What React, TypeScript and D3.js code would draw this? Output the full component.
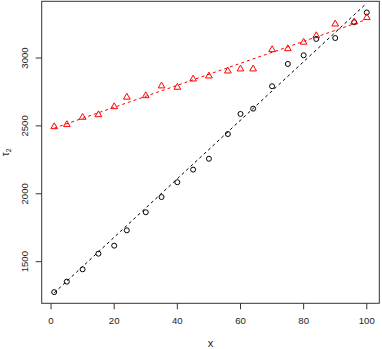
import React, { useEffect, useRef } from "react";
import * as d3 from "d3";

// x values shared by both series
const xs = [1, 5, 10, 15, 20, 24, 30, 35, 40, 45, 50, 56, 60, 64, 70, 75, 80, 84, 90, 96, 100];
// black circles
const tauCircles = [1276, 1353, 1444, 1559, 1618, 1731, 1864, 1976, 2085, 2178, 2258, 2440, 2588, 2627, 2792, 2956, 3020, 3140, 3147, 3263, 3335];
// red triangles
const tauTriangles = [2494, 2509, 2563, 2582, 2641, 2711, 2722, 2794, 2784, 2845, 2867, 2904, 2919, 2919, 3061, 3068, 3116, 3164, 3250, 3265, 3297];
// dashed lines: [intercept, slope]
const blackLineCoef = [1249, 21.55];
const redLineCoef = [2475.3, 8.09];
const xTicks = [0, 20, 40, 60, 80, 100];
const yTicks = [1500, 2000, 2500, 3000];

const W = 382;
const H = 349;
const FONT = "'Liberation Sans', Arial, Helvetica, sans-serif";

const App = () => {
  const ref = useRef<SVGSVGElement>(null);

  useEffect(() => {
    const svg = d3.select(ref.current);
    svg.selectAll("*").remove();

    const left = 41.7, right = 379.3, top = 1.3, bottom = 303.3;

    const xExt = d3.extent(xs) as [number, number];
    const xPad = (xExt[1] - xExt[0]) * 0.04;
    const x = d3.scaleLinear().domain([xExt[0] - xPad, xExt[1] + xPad]).range([left, right]);

    const yExt = d3.extent([...tauCircles, ...tauTriangles]) as [number, number];
    const yPad = (yExt[1] - yExt[0]) * 0.04;
    const y = d3.scaleLinear().domain([yExt[0] - yPad, yExt[1] + yPad]).range([bottom, top]);

    // box
    svg.append("rect")
      .attr("x", left).attr("y", top)
      .attr("width", right - left).attr("height", bottom - top)
      .attr("fill", "none").attr("stroke", "#333").attr("stroke-width", 1);

    // x axis
    const gx = svg.append("g").attr("transform", `translate(0,${bottom})`);
    gx.selectAll("line").data(xTicks).enter().append("line")
      .attr("x1", (d) => x(d)).attr("x2", (d) => x(d))
      .attr("y1", 0).attr("y2", 6)
      .attr("stroke", "#333");
    gx.selectAll("text").data(xTicks).enter().append("text")
      .attr("x", (d) => x(d)).attr("y", 21)
      .attr("text-anchor", "middle")
      .attr("font-family", FONT).attr("font-size", 9.6).attr("fill", "#222")
      .text((d) => d);

    // y axis
    const gy = svg.append("g").attr("transform", `translate(${left},0)`);
    gy.selectAll("line").data(yTicks).enter().append("line")
      .attr("x1", 0).attr("x2", -6)
      .attr("y1", (d) => y(d)).attr("y2", (d) => y(d))
      .attr("stroke", "#333");
    gy.selectAll("text").data(yTicks).enter().append("text")
      .attr("transform", (d) => `translate(-13.5,${y(d)}) rotate(-90)`)
      .attr("text-anchor", "middle")
      .attr("font-family", FONT).attr("font-size", 9.6).attr("fill", "#222")
      .text((d) => d);

    // axis titles
    svg.append("text")
      .attr("x", (left + right) / 2).attr("y", 347)
      .attr("text-anchor", "middle")
      .attr("font-family", FONT).attr("font-size", 11).attr("fill", "#222")
      .text("x");
    const yl = svg.append("text")
      .attr("transform", `translate(8.5,${(top + bottom) / 2}) rotate(-90)`)
      .attr("text-anchor", "middle")
      .attr("font-family", FONT).attr("font-size", 10).attr("fill", "#222");
    yl.append("tspan").text("τ");
    yl.append("tspan").attr("font-size", 7).attr("dy", 2).text("2");

    const line = d3.line<number[]>().x((d) => x(d[0])).y((d) => y(d[1]));

    // dashed lines
    const series = [
      { coef: blackLineCoef, color: "#000" },
      { coef: redLineCoef, color: "#ff0000" },
    ];
    series.forEach((s) => {
      const [a, b] = s.coef;
      const pts = xExt.map((v) => [v, a + b * v]);
      svg.append("path")
        .attr("d", line(pts))
        .attr("fill", "none")
        .attr("stroke", s.color)
        .attr("stroke-width", 1)
        .attr("stroke-dasharray", "3,3");
    });

    // circles
    svg.selectAll(".pt-c").data(xs).enter().append("circle")
      .attr("class", "pt-c")
      .attr("cx", (d) => x(d))
      .attr("cy", (d, i) => y(tauCircles[i]))
      .attr("r", 2.5)
      .attr("fill", "none").attr("stroke", "#000").attr("stroke-width", 1);

    // triangles
    const xc = 2.5;
    const tr = 1.5551 * xc, th = 1.3468 * xc, tb = 0.7776 * xc;
    svg.selectAll(".pt-t").data(xs).enter().append("path")
      .attr("class", "pt-t")
      .attr("transform", (d, i) => `translate(${x(d)},${y(tauTriangles[i])})`)
      .attr("d", `M0,${-tr}L${th},${tb}L${-th},${tb}Z`)
      .attr("fill", "none").attr("stroke", "#ff0000").attr("stroke-width", 1);
  }, []);

  return (
    <svg
      ref={ref}
      width={W}
      height={H}
      style={{ position: "absolute", left: 0, top: 0, background: "#fff" }}
    ></svg>
  );
};

export default App;
